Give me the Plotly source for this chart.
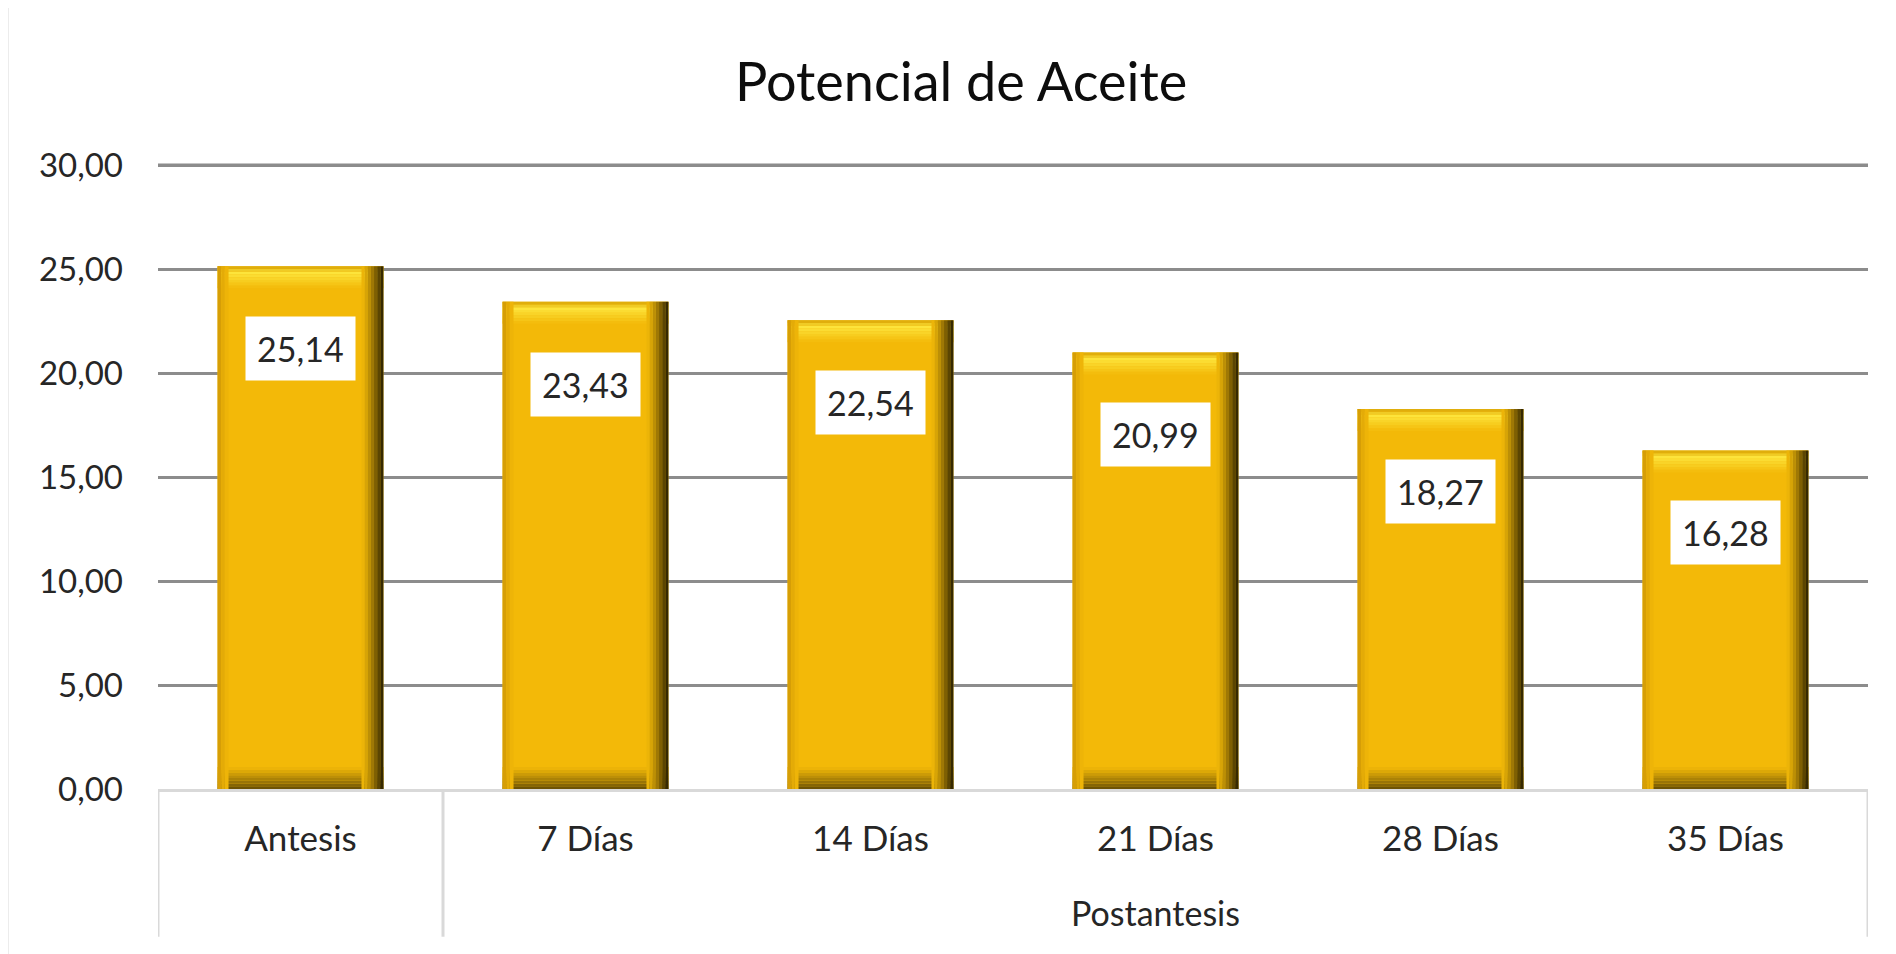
import plotly.graph_objects as go

categories = ["Antesis", "7 Días", "14 Días", "21 Días", "28 Días", "35 Días"]
values = [25.14, 23.43, 22.54, 20.99, 18.27, 16.28]
group_label = "Postantesis"
title_text = "Potencial de Aceite"
y_ticks = [0, 5, 10, 15, 20, 25, 30]

FONT = "Lato"
TXT = "#262626"
MAIN = "#F3B908"
GRID = "#8C8C8C"
BW = 0.582          # bar width (category units)
BEV_X = 0.077       # side bevel width (category units)
BEV_Y = 1.06        # top/bottom bevel height (value units)
N = len(values)


def mix(c1, c2, t):
    a = [int(c1[i:i + 2], 16) for i in (1, 3, 5)]
    b = [int(c2[i:i + 2], 16) for i in (1, 3, 5)]
    return "#" + "".join(f"{round(x + (y - x) * t):02X}" for x, y in zip(a, b))


fig = go.Figure()


def layer(base, height, color, width=BW, offset=-BW / 2):
    fig.add_trace(go.Bar(
        x=categories, y=height, base=base, width=width, offset=offset,
        marker=dict(color=color, line=dict(width=0)),
        hoverinfo="skip", showlegend=False))


# main body
fig.add_trace(go.Bar(
    x=categories, y=values, width=BW, offset=-BW / 2,
    marker=dict(color=MAIN, line=dict(width=0)),
    showlegend=False, name="Potencial de Aceite"))

# top bevel: main -> bright yellow -> gold edge (bottom to top)
steps = 8
h = BEV_Y / steps
for i in range(steps):
    t = (i + 0.5) / steps
    if t < 0.7:
        col = mix(MAIN, "#FDE53C", t / 0.7)
    else:
        col = mix("#FDE53C", "#D9A000", (t - 0.7) / 0.3)
    layer([v - BEV_Y + i * h for v in values], [h] * N, col)

# bottom bevel: dark at the base fading into main
for i in range(steps):
    t = (i + 0.5) / steps
    col = mix("#5E4704", MAIN, t ** 0.8)
    layer([i * h] * N, [h] * N, col)

# left bevel (slightly darker gold edge)
lw = BEV_X * 0.5 / 3
for i, c in enumerate(["#D69E06", "#E4AB07", "#EEB408"]):
    layer([0] * N, values, c, width=lw, offset=-BW / 2 + i * lw)

# right bevel: dark gradient toward the edge
rsteps = 7
rw = BEV_X / rsteps
for i in range(rsteps):
    t = (i + 0.5) / rsteps
    col = mix(MAIN, "#231A00", t ** 1.3)
    layer([0] * N, values, col, width=rw, offset=BW / 2 - BEV_X + i * rw)

# data labels with white background
for c, v in zip(categories, values):
    fig.add_annotation(
        x=c, y=v, xref="x", yref="y", yanchor="top", yshift=-50,
        text=f"{v:.2f}".replace(".", ","), showarrow=False,
        bgcolor="white", borderpad=11,
        font=dict(family=FONT, size=34, color=TXT))

# category group label (centered over the five post-anthesis categories)
fig.add_annotation(
    x=(1 + N - 1) / 2, y=-0.198, xref="x", yref="paper",
    text=group_label, showarrow=False, yanchor="middle",
    font=dict(family=FONT, size=34, color=TXT))

# top gridline (plotly skips the one on the plot edge)
fig.add_shape(type="line", xref="paper", yref="y", x0=0, x1=1,
              y0=y_ticks[-1], y1=y_ticks[-1], line=dict(color=GRID, width=3),
              layer="below")

# category separators (axis decoration)
for xs in [-0.5, 0.5, N - 0.5]:
    fig.add_shape(type="line", xref="x", yref="paper", x0=xs, x1=xs,
                  y0=0, y1=-0.236, line=dict(color="#D9D9D9", width=3))

# outer chart border (top and left visible)
fig.add_shape(type="rect", xref="paper", yref="paper",
              x0=-0.0883, x1=1.2, y0=-0.6, y1=1.252,
              line=dict(color="#D9D9D9", width=3), fillcolor="rgba(0,0,0,0)",
              layer="below")

fig.update_layout(
    width=1896, height=954,
    margin=dict(l=150, r=36, t=155, b=173),
    paper_bgcolor="white", plot_bgcolor="white",
    barmode="overlay",
    separators=",.",
    title=dict(text=title_text, x=0.4696, xref="paper", y=1 - 74 / 954,
               yref="container", xanchor="center", yanchor="middle",
               font=dict(family=FONT, size=54, color="#0D0D0D")),
    font=dict(family=FONT, color=TXT),
    xaxis=dict(type="category", range=[-0.5, N - 0.5],
               showgrid=False, showline=True, linecolor="#D9D9D9", linewidth=3,
               ticks="", ticklabelstandoff=17, fixedrange=True,
               tickfont=dict(family=FONT, size=35, color=TXT)),
    yaxis=dict(range=[0, 30.1], tickvals=y_ticks, tickformat=".2f",
               showgrid=True, gridcolor=GRID, gridwidth=3,
               zeroline=False, showline=False, ticks="",
               ticklabelstandoff=34, fixedrange=True,
               tickfont=dict(family=FONT, size=33, color=TXT)),
)

fig.write_html("out.html")
